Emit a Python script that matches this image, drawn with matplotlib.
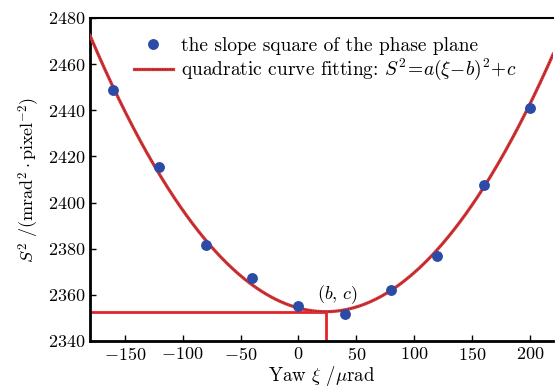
import numpy as np
import matplotlib
matplotlib.use("Agg")
import matplotlib.pyplot as plt

plt.rcParams['font.family'] = ['cmr10', 'DejaVu Serif']
plt.rcParams['mathtext.fontset'] = 'cm'
plt.rcParams['axes.formatter.use_mathtext'] = True

# measured points
yaw = [-160, -120, -80, -40, 0, 40, 80, 120, 160, 200]
slope_sq = [2449.0, 2415.5, 2381.7, 2367.4, 2355.0, 2351.7, 2362.3, 2376.7, 2407.4, 2440.9]

# fit parameters S^2 = a(xi - b)^2 + c
a = 0.00289
b = 23.5
c = 2352.7

fig = plt.figure(figsize=(5.57, 3.91), dpi=100)
ax = fig.add_axes([0.1616, 0.1279, 0.8314, 0.8261])

xs = np.linspace(-180, 220, 400)
fit = a * (xs - b) ** 2 + c

ax.plot([-180, b], [c, c], color='#e2232a', lw=2, zorder=2)
ax.plot([b, b], [2340, c], color='#e2232a', lw=2, zorder=2)

l1, = ax.plot(xs, fit, color='#d6393b', lw=2.3, zorder=3)
l2, = ax.plot(xs, fit, color='#9e1a1f', lw=0.9, ls=(0, (1, 1)), zorder=3)
pts, = ax.plot(yaw, slope_sq, 'o', color='#2b4ba6', ms=6.8, zorder=4, ls='none')

ax.text(b + 10, c + 7.2, r'$(b,\,c)$', fontsize=13, ha='center', va='center')

ax.legend([pts, (l1, l2)],
          ['the slope square of the phase plane',
           r'quadratic curve fitting: $S^2\!=\!a(\xi\!-\!b)^2\!+\!c$'],
          loc='upper left', bbox_to_anchor=(0.078, 0.965), frameon=False,
          fontsize=14, handlelength=2.0, borderaxespad=0, labelspacing=0.1,
          handletextpad=0.4)

ax.set_xlim(-180, 220)
ax.set_ylim(2340, 2480)
ax.set_xticks([-150, -100, -50, 0, 50, 100, 150, 200])
ax.set_yticks([2340, 2360, 2380, 2400, 2420, 2440, 2460, 2480])
ax.tick_params(direction='in', labelsize=13, length=4, width=1.0)
ax.spines['right'].set_visible(False)
ax.spines['left'].set_linewidth(2)
ax.spines['bottom'].set_linewidth(2)
ax.spines['top'].set_linewidth(1.5)

ax.set_xlabel(r'Yaw $\xi$ /$\mu$rad', fontsize=13.5, labelpad=1)
ax.set_ylabel(r'$S^2$ /(mrad$^2\cdot$pixel$^{-2}$)', fontsize=13, labelpad=4)

fig.savefig('out.png', dpi=100)
